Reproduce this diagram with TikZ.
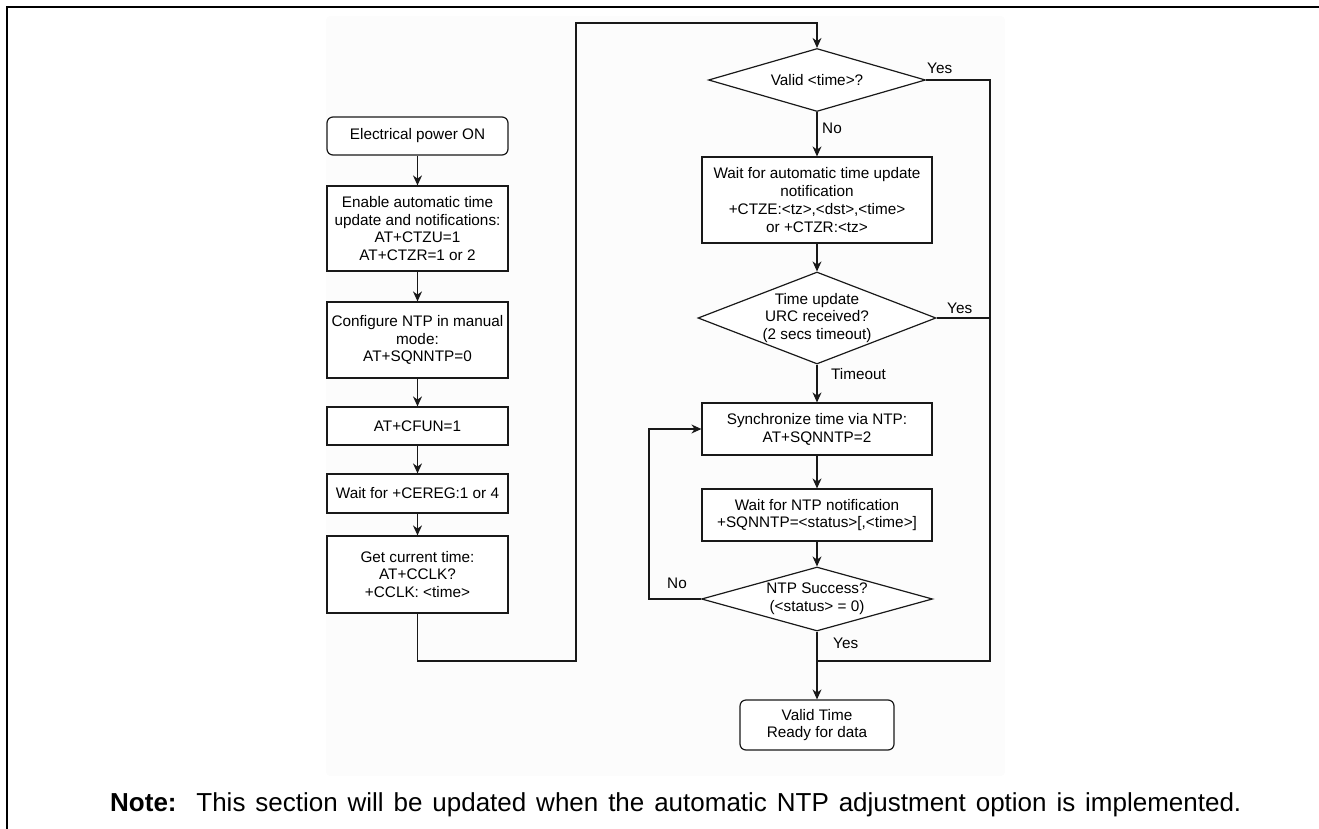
\documentclass[tikz,border=0pt]{standalone}
\usepackage{fontspec}
\setmainfont{Liberation Sans}
\usepackage{tikz}
\usetikzlibrary{shapes.geometric}
\usetikzlibrary{arrows.meta}
\usepackage{xcolor}
\definecolor{ColLine}{RGB}{25,25,25}
\definecolor{ColBack}{RGB}{252,252,252}
\tikzstyle{FlowFont}=[font=\fontsize{15.3}{17.8}\selectfont]
\tikzstyle{NodeStep}=[rectangle,draw=ColLine,fill=white,line width=1.2pt,minimum width=181pt,
inner sep=0pt,align=center,FlowFont]
\tikzstyle{NodeTerm}=[NodeStep,rounded corners=6pt]
\tikzstyle{NodeTest}=[diamond,draw=ColLine,fill=white,line width=1.2pt,inner sep=0pt]
\tikzstyle{EdgeFlow}=[ColLine,line width=1.2pt,-{Stealth[length=10pt,width=9pt]}]
\tikzstyle{EdgeLine}=[ColLine,line width=1.2pt]
\tikzstyle{EdgeLabel}=[anchor=west,inner sep=0pt,FlowFont]

\begin{document}
\begin{tikzpicture}[x=1pt,y=-1pt]
        \useasboundingbox(0,0)rectangle(1319,829);
        \fill[ColBack,rounded corners=4pt](326,16)rectangle(1005,776);
        \draw[line width=2.2pt](7,829)--(7,7)--(1319,7);
        % left column
        \node[NodeTerm,minimum height=38pt](pwr)at(417.5,136){Electrical power ON};
        \node[NodeStep,minimum height=85pt](ena)at(417.5,228.5){Enable automatic time\\update and notifications:\\AT+CTZU=1\\AT+CTZR=1 or 2};
        \node[NodeStep,minimum height=76pt](ntpcfg)at(417.5,340){Configure NTP in manual\\mode:\\AT+SQNNTP=0};
        \node[NodeStep,minimum height=38pt](cfun)at(417.5,426){AT+CFUN=1};
        \node[NodeStep,minimum height=39pt](cereg)at(417.5,493.5){Wait for +CEREG:1 or 4};
        \node[NodeStep,minimum height=77pt](gettime)at(417.5,574.5){Get current time:\\AT+CCLK?\\+CCLK: <time>};
        % right column
        \node[NodeTest,minimum width=217pt,minimum height=63pt,label={[FlowFont]center:Valid <time>?}](qvalid)at(817,80){};
        \node[NodeStep,minimum width=230pt,minimum height=86pt](waitupd)at(817,200){Wait for automatic time update\\notification\\+CTZE:<tz>,<dst>,<time>\\or +CTZR:<tz>};
        \node[NodeTest,minimum width=238pt,minimum height=92pt,label={[FlowFont,align=center]center:Time update\\URC received?\\(2 secs timeout)}](qurc)at(817,318){};
        \node[NodeStep,minimum width=230pt,minimum height=52pt](sync)at(817,429){Synchronize time via NTP:\\AT+SQNNTP=2};
        \node[NodeStep,minimum width=230pt,minimum height=52pt](waitntp)at(817,515){Wait for NTP notification\\+SQNNTP=<status>[,<time>]};
        \node[NodeTest,minimum width=231pt,minimum height=64pt,label={[FlowFont,align=center]center:NTP Success?\\(<status> = 0)}](qntp)at(817,599){};
        \node[NodeTerm,minimum width=154pt,minimum height=50pt](ready)at(817,725){Valid Time\\Ready for data};
        % bends
        \coordinate(loopbot)at(576,661);
        \coordinate(looptop)at(576,23);
        \coordinate(yesrail)at(990,661);
        \coordinate(merge)at(817,661);
        \coordinate(retry)at(649,599);
        \draw[EdgeFlow](pwr)--(ena);
        \draw[EdgeFlow](ena)--(ntpcfg);
        \draw[EdgeFlow](ntpcfg)--(cfun);
        \draw[EdgeFlow](cfun)--(cereg);
        \draw[EdgeFlow](cereg)--(gettime);
        \draw[EdgeFlow](gettime.south)|-(loopbot)--(looptop)-|(qvalid.north);
        \draw[EdgeFlow](qvalid)--(waitupd);
        \draw[EdgeLine](qvalid.east)-|(yesrail)--(merge);
        \draw[EdgeFlow](waitupd)--(qurc);
        \draw[EdgeLine](qurc.east)--(qurc.east-|yesrail);
        \draw[EdgeFlow](qurc)--(sync);
        \draw[EdgeFlow](sync)--(waitntp);
        \draw[EdgeFlow](waitntp)--(qntp);
        \draw[EdgeFlow](qntp.west)--(retry)|-(sync.west);
        \draw[EdgeFlow](qntp.south)--(ready.north);
        % edge labels
        \node[EdgeLabel](lno1)at(822,128){No};
        \node[EdgeLabel](lyes1)at(927,68){Yes};
        \node[EdgeLabel](lyes2)at(947,308){Yes};
        \node[EdgeLabel](lto)at(831,374){Timeout};
        \node[EdgeLabel](lno2)at(667,583){No};
        \node[EdgeLabel](lyes3)at(833,643){Yes};
        % note
        \node[font=\fontsize{26}{30}\selectfont,anchor=base west,inner sep=0pt](note)at(110,811){\spaceskip=.38em plus .05em\relax\textbf{Note:}\ \ This section will be updated when the automatic NTP adjustment option is implemented.};
    \end{tikzpicture}
\end{document}
